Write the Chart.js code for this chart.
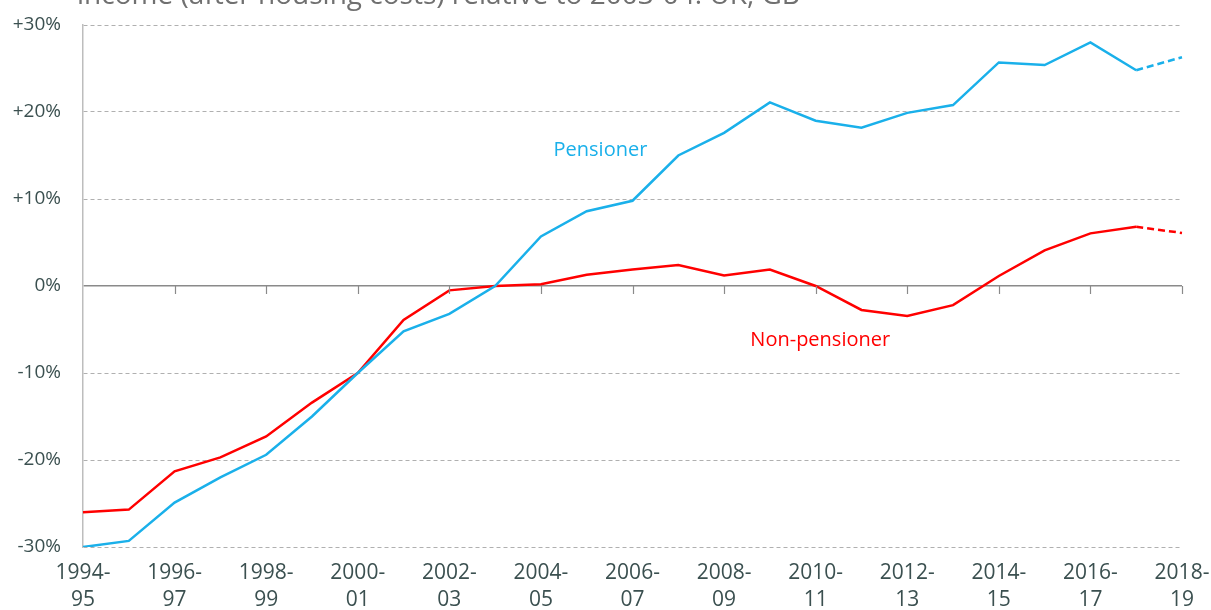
<!DOCTYPE html>
<html>
<head>
<meta charset="utf-8">
<script src="https://cdn.jsdelivr.net/npm/chart.js@4.4.1/dist/chart.umd.min.js"></script>
<style>
  html, body { margin: 0; padding: 0; background: #ffffff; overflow: hidden; }
  #wrap { position: relative; width: 1211px; height: 610px; }
</style>
</head>
<body>
<div id="wrap"><canvas id="c" width="1211" height="610"></canvas></div>
<script>
// ---- Data ----
const categories = ['1994-95','1995-96','1996-97','1997-98','1998-99','1999-00','2000-01','2001-02','2002-03','2003-04','2004-05','2005-06','2006-07','2007-08','2008-09','2009-10','2010-11','2011-12','2012-13','2013-14','2014-15','2015-16','2016-17','2017-18','2018-19'];
const pensioner = [-30.0, -29.3, -24.9, -22.0, -19.4, -15.0, -10.0, -5.2, -3.2, 0.0, 5.7, 8.6, 9.8, 15.0, 17.6, 21.1, 19.0, 18.2, 19.9, 20.8, 25.7, 25.4, 28.0, 24.8, 26.3];
const nonPensioner = [-26.0, -25.7, -21.3, -19.7, -17.3, -13.4, -10.0, -3.9, -0.5, 0.0, 0.2, 1.3, 1.9, 2.4, 1.2, 1.9, 0.0, -2.75, -3.45, -2.2, 1.15, 4.1, 6.05, 6.8, 6.1];
const yTicks = [-30, -20, -10, 0, 10, 20, 30];
const titleText = 'income (after housing costs) relative to 2003-04: UK, GB';
const seriesLabels = [
  { text: 'Pensioner', x: 11.3, y: 15.6, color: '#1AB0EA' },
  { text: 'Non-pensioner', x: 16.1, y: -6.2, color: '#FF0000' }
];

const BLUE = '#1AB0EA';
const RED = '#FF0000';
const TICK_COLOR = '#3b5050';
const FONT = '"Open Sans", "DejaVu Sans", sans-serif';
const lastIdx = categories.length - 1;

const dashLast = ctx => (ctx.p1DataIndex === lastIdx ? [7, 4] : undefined);

const overlayPlugin = {
  id: 'overlay',
  afterDraw(chart) {
    const ctx = chart.ctx;
    const xs = chart.scales.x, ys = chart.scales.y;
    // tick marks on the zero line
    const y0 = ys.getPixelForValue(0);
    ctx.save();
    ctx.strokeStyle = '#8a8a8a';
    ctx.lineWidth = 1.2;
    for (let i = 2; i < categories.length; i += 2) {
      const px = Math.round(xs.getPixelForValue(i)) + 0.5;
      ctx.beginPath();
      ctx.moveTo(px, y0);
      ctx.lineTo(px, y0 + 8);
      ctx.stroke();
    }
    // series labels
    ctx.font = '20px ' + FONT;
    ctx.textAlign = 'center';
    ctx.textBaseline = 'middle';
    seriesLabels.forEach(l => {
      ctx.fillStyle = l.color;
      ctx.fillText(l.text, xs.getPixelForValue(l.x), ys.getPixelForValue(l.y));
    });
    // partially cut title
    ctx.font = '28px ' + FONT;
    ctx.textAlign = 'left';
    ctx.textBaseline = 'alphabetic';
    ctx.fillStyle = '#707070';
    ctx.fillText(titleText, 77, 4);
    ctx.restore();
  }
};

new Chart(document.getElementById('c'), {
  type: 'line',
  data: {
    labels: categories,
    datasets: [
      {
        label: 'Pensioner',
        data: pensioner,
        borderColor: BLUE,
        backgroundColor: BLUE,
        borderWidth: 2.5,
        pointRadius: 0,
        tension: 0,
        segment: { borderDash: dashLast }
      },
      {
        label: 'Non-pensioner',
        data: nonPensioner,
        borderColor: RED,
        backgroundColor: RED,
        borderWidth: 2.5,
        pointRadius: 0,
        tension: 0,
        segment: { borderDash: dashLast }
      }
    ]
  },
  options: {
    responsive: false,
    animation: false,
    devicePixelRatio: 1,
    layout: { padding: { left: 0, right: 29, top: 25, bottom: 0 } },
    plugins: {
      legend: { display: false },
      title: { display: false },
      tooltip: { enabled: false }
    },
    scales: {
      x: {
        type: 'category',
        offset: false,
        grid: { display: false, drawTicks: false },
        border: { display: false },
        ticks: {
          autoSkip: false,
          maxRotation: 0,
          minRotation: 0,
          padding: 12,
          color: TICK_COLOR,
          font: { family: FONT, size: 21, lineHeight: 1.3 },
          callback: function (v, i) {
            if (i % 2 !== 0) return '';
            const c = categories[i];
            return [c.slice(0, 5), c.slice(5)];
          }
        },
        afterFit: s => { s.height = 63; s.paddingLeft = 0; s.paddingRight = 0; s.paddingTop = 0; s.paddingBottom = 0; }
      },
      y: {
        min: -30,
        max: 30,
        afterBuildTicks: s => { s.ticks = yTicks.map(v => ({ value: v })); },
        grid: {
          drawTicks: false,
          color: ctx => (ctx.tick && ctx.tick.value === 0 ? '#8a8a8a' : '#b0b0b0'),
          lineWidth: ctx => (ctx.tick && ctx.tick.value === 0 ? 1.5 : 1)
        },
        border: {
          display: true,
          color: '#bdbdbd',
          width: 1.5,
          dash: ctx => (ctx.tick && ctx.tick.value === 0 ? [] : [4, 3])
        },
        ticks: {
          padding: 22,
          color: TICK_COLOR,
          font: { family: FONT, size: 19 },
          callback: v => (v > 0 ? '+' + v + '%' : v + '%')
        },
        afterFit: s => { s.width = 83; s.paddingLeft = 0; s.paddingRight = 0; s.paddingTop = 0; s.paddingBottom = 0; }
      }
    }
  },
  plugins: [overlayPlugin]
});
</script>
</body>
</html>
